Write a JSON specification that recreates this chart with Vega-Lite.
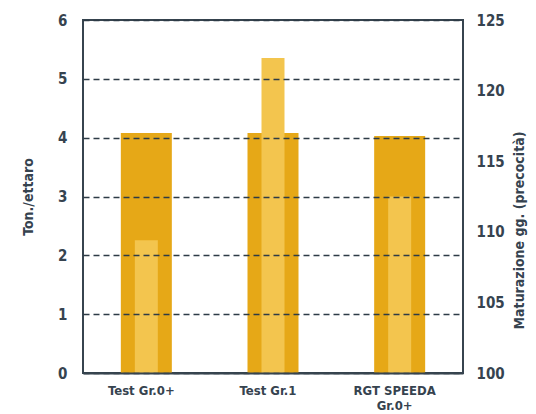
{
  "$schema": "https://vega.github.io/schema/vega-lite/v6.json",
  "width": 380,
  "height": 353,
  "autosize": {"type": "none"},
  "padding": {"left": 83, "top": 20, "right": 73, "bottom": 41},
  "background": "white",
  "view": {"stroke": "#37444f", "strokeWidth": 2},
  "config": {
    "font": "Liberation Sans Narrow, DejaVu Sans Condensed, sans-serif",
    "axis": {
      "labelFont": "Liberation Sans Narrow, DejaVu Sans Condensed, sans-serif",
      "titleFont": "Liberation Sans Narrow, DejaVu Sans Condensed, sans-serif",
      "labelFontWeight": "bold",
      "titleFontWeight": "bold",
      "labelColor": "#36434f",
      "titleColor": "#36434f",
      "labelFontSize": 15,
      "titleFontSize": 14,
      "ticks": false
    }
  },
  "data": {
    "values": [
      {"variety": "Test Gr.0+", "ton": 4.08, "gg": 109.4},
      {"variety": "Test Gr.1", "ton": 4.08, "gg": 122.3},
      {"variety": "RGT SPEEDA Gr.0+", "ton": 4.03, "gg": 112.5}
    ]
  },
  "encoding": {
    "x": {
      "field": "variety",
      "type": "nominal",
      "sort": null,
      "axis": {
        "title": null,
        "labelAngle": 0,
        "labelPadding": 11,
        "labelFontSize": 13,
        "labelLineHeight": 15,
        "labelOffset": -5,
        "labelExpr": "datum.value == 'RGT SPEEDA Gr.0+' ? ['RGT SPEEDA', 'Gr.0+'] : datum.value",
        "domainColor": "#37444f",
        "domainWidth": 2,
        "zindex": 2
      }
    }
  },
  "layer": [
    {
      "mark": {"type": "bar", "size": 51, "color": "#e6a817"},
      "encoding": {
        "y": {
          "field": "ton",
          "type": "quantitative",
          "scale": {"domain": [0, 6], "nice": false},
          "axis": {
            "title": "Ton./ettaro",
            "values": [0, 1, 2, 3, 4, 5, 6],
            "labelPadding": 16,
            "titlePadding": 22,
            "domain": false,
            "grid": true,
            "gridDash": [6, 4],
            "gridColor": "#2d3b46",
            "gridWidth": 1.3,
            "zindex": 1
          }
        }
      }
    },
    {
      "mark": {"type": "bar", "size": 23, "color": "#f3c54e"},
      "encoding": {
        "y": {
          "field": "gg",
          "type": "quantitative",
          "scale": {"domain": [100, 125], "nice": false, "zero": false},
          "axis": {
            "orient": "right",
            "title": "Maturazione gg. (precocità)",
            "values": [100, 105, 110, 115, 120, 125],
            "labelPadding": 13,
            "titlePadding": 22,
            "titleAngle": 270,
            "titleY": 210,
            "domain": false,
            "grid": false,
            "zindex": 1
          }
        },
        "y2": {"datum": 100}
      }
    }
  ],
  "resolve": {"scale": {"y": "independent"}}
}
